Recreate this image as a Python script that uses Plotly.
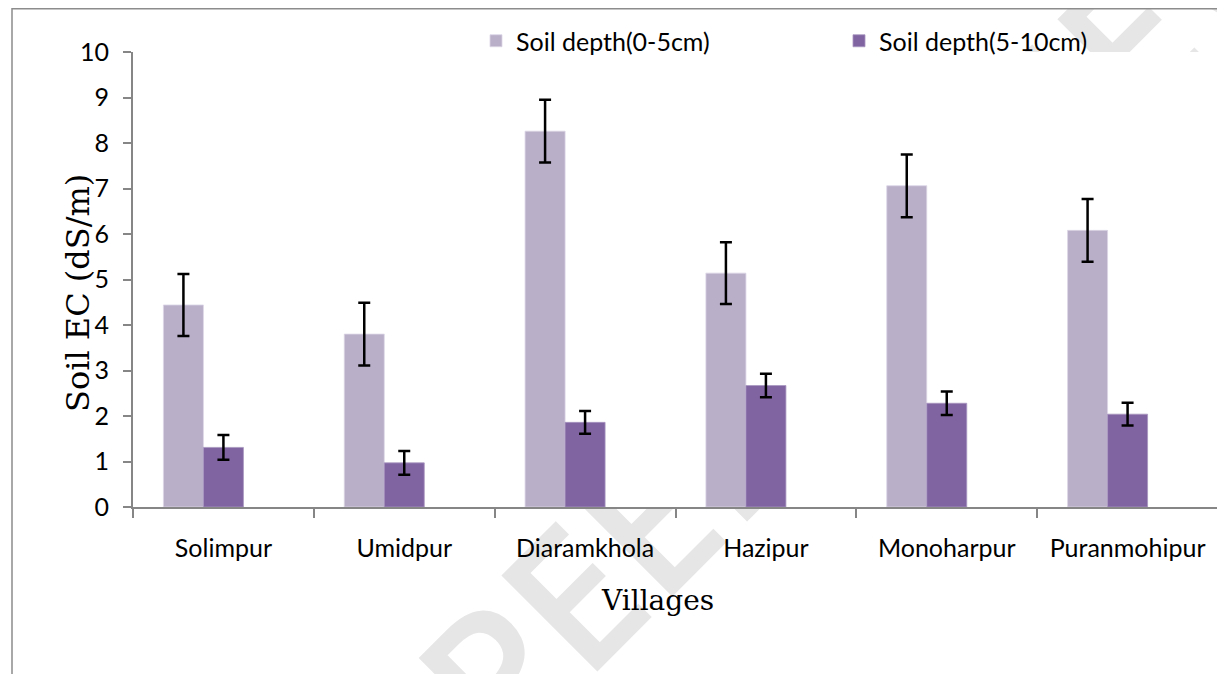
import plotly.graph_objects as go

villages = ["Solimpur", "Umidpur", "Diaramkhola", "Hazipur", "Monoharpur", "Puranmohipur"]
depth_0_5 = [4.44, 3.80, 8.26, 5.14, 7.06, 6.08]
depth_0_5_err = [0.68, 0.69, 0.69, 0.68, 0.69, 0.69]
depth_5_10 = [1.31, 0.97, 1.86, 2.67, 2.28, 2.04]
depth_5_10_err = [0.27, 0.26, 0.25, 0.26, 0.26, 0.25]
y_ticks = list(range(0, 11))

LIGHT = "#B9AFC9"
DARK = "#8064A2"
TXT_FONT = "Lato"
OFF = 8  # page body margin in the browser
W, H = 1225 - OFF, 674 - OFF
ML, MR, MT, MB = 125, 7, 44, 167
PW, PH = W - ML - MR, H - MT - MB

def px_x(p):
    # screen pixel -> paper x
    return (p - OFF - ML) / PW

def px_y(p):
    # screen pixel -> paper y
    return (H - MB - (p - OFF)) / PH

bar_w = 40 / (PW / len(villages))

fig = go.Figure()
fig.add_trace(go.Bar(
    x=villages, y=depth_0_5, name="Soil depth(0-5cm)",
    marker=dict(color=LIGHT, line=dict(color="#DCD6E6", width=0.8)),
    width=bar_w, offset=-1.5 * bar_w,
    error_y=dict(type="data", array=depth_0_5_err, visible=True,
                 color="black", thickness=2.5, width=6),
))
fig.add_trace(go.Bar(
    x=villages, y=depth_5_10, name="Soil depth(5-10cm)",
    marker=dict(color=DARK, line=dict(color="#A896BF", width=0.8)),
    width=bar_w, offset=-0.5 * bar_w,
    error_y=dict(type="data", array=depth_5_10_err, visible=True,
                 color="black", thickness=2.5, width=6),
))

shapes = [
    # watermark (behind the plot area)
    dict(type="rect", xref="paper", yref="paper",
         x0=px_x(805), x1=px_x(806), y0=px_y(378), y1=px_y(377),
         line=dict(width=0), fillcolor="rgba(0,0,0,0)", layer="below",
         label=dict(text="NOT PEER REVIEWED", textangle=-45,
                    textposition="middle center",
                    font=dict(family="Open Sans", size=190, weight=600, color="#E6E6E6"))),
    # white plot area covering the watermark
    dict(type="rect", xref="paper", yref="paper", x0=0, x1=1, y0=0, y1=1,
         line=dict(width=0), fillcolor="white", layer="below"),
    # outer frame
    dict(type="rect", xref="paper", yref="paper",
         x0=px_x(12), x1=px_x(1245), y0=px_y(700), y1=px_y(OFF + 0.8),
         line=dict(color="#8C8C8C", width=1.5), fillcolor="rgba(0,0,0,0)", layer="below"),
]

annotations = [
    dict(text="Soil EC (dS/m)", xref="paper", yref="paper",
         x=px_x(78), y=px_y(293), textangle=-90, showarrow=False,
         xanchor="center", yanchor="middle",
         font=dict(family="DejaVu Serif", size=32, color="black")),
    dict(text="Villages", xref="paper", yref="paper",
         x=px_x(657), y=px_y(600), showarrow=False,
         xanchor="center", yanchor="middle",
         font=dict(family="DejaVu Serif", size=28, color="black")),
]

fig.update_layout(
    width=W, height=H,
    margin=dict(l=ML, r=MR, t=MT, b=MB, pad=0, autoexpand=False),
    paper_bgcolor="white", plot_bgcolor="white",
    barmode="overlay",
    showlegend=True,
    legend=dict(orientation="h", x=px_x(476), y=px_y(41), xanchor="left", yanchor="middle",
                font=dict(family=TXT_FONT, size=25, color="black"),
                entrywidth=318, entrywidthmode="pixels",
                bgcolor="rgba(0,0,0,0)", borderwidth=0, tracegroupgap=0),
    shapes=shapes, annotations=annotations,
    xaxis=dict(type="category", categoryorder="array", categoryarray=villages,
               showline=True, linecolor="#868686", linewidth=2,
               ticks="outside", tickson="boundaries", ticklen=9, tickwidth=2, tickcolor="#868686",
               showgrid=False, zeroline=False, range=[-0.5, 5.5],
               tickfont=dict(family=TXT_FONT, size=25, color="black"),
               ticklabelstandoff=18),
    yaxis=dict(range=[0, 10], tickvals=y_ticks, showline=True, linecolor="#868686", linewidth=2,
               ticks="outside", ticklen=8, tickwidth=2, tickcolor="#868686",
               showgrid=False, zeroline=False,
               tickfont=dict(family=TXT_FONT, size=25, color="black"),
               ticklabelstandoff=9),
)

fig.write_html("out.html")
